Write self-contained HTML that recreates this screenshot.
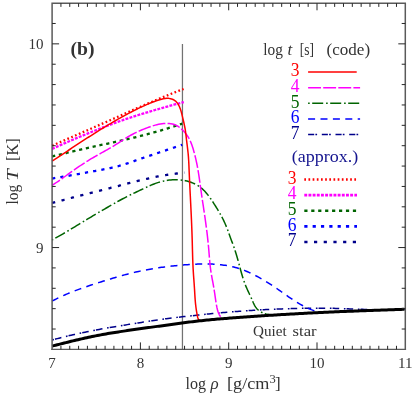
<!DOCTYPE html>
<html><head><meta charset="utf-8"><title>Figure (b)</title>
<style>html,body{margin:0;padding:0;background:#fff}svg{display:block}</style>
</head><body>
<svg width="415" height="397" viewBox="0 0 415 397" style="display:block">
<rect width="415" height="397" fill="#fff"/>
<line x1="182.45" y1="43.9" x2="182.45" y2="349.4" stroke="#727272" stroke-width="1.25"/>
<g fill="none" stroke-linejoin="round">
<path d="M52.10,203.00 L53.21,202.70 L54.33,202.41 L55.44,202.11 L56.55,201.82 L57.67,201.52 L58.78,201.23 L59.89,200.93 L61.01,200.64 L62.12,200.34 L63.23,200.05 L64.35,199.76 L65.46,199.46 L66.57,199.17 L67.69,198.88 L68.80,198.59 L69.92,198.29 L71.03,198.00 L72.14,197.71 L73.26,197.42 L74.37,197.13 L75.48,196.84 L76.60,196.55 L77.71,196.26 L78.82,195.97 L79.94,195.68 L81.05,195.39 L82.16,195.11 L83.28,194.82 L84.39,194.53 L85.50,194.24 L86.62,193.96 L87.73,193.67 L88.84,193.38 L89.96,193.10 L91.07,192.81 L92.18,192.53 L93.30,192.24 L94.41,191.96 L95.52,191.68 L96.64,191.39 L97.75,191.11 L98.86,190.83 L99.98,190.55 L101.09,190.27 L102.21,189.99 L103.32,189.71 L104.43,189.43 L105.55,189.15 L106.66,188.86 L107.77,188.58 L108.89,188.30 L110.00,188.02 L111.11,187.74 L112.23,187.46 L113.34,187.18 L114.45,186.90 L115.57,186.62 L116.68,186.33 L117.79,186.05 L118.91,185.77 L120.02,185.48 L121.13,185.19 L122.25,184.90 L123.36,184.61 L124.47,184.32 L125.59,184.03 L126.70,183.73 L127.81,183.44 L128.93,183.15 L130.04,182.86 L131.15,182.57 L132.27,182.28 L133.38,182.00 L134.49,181.72 L135.61,181.44 L136.72,181.17 L137.84,180.90 L138.95,180.63 L140.06,180.37 L141.18,180.11 L142.29,179.86 L143.40,179.61 L144.52,179.35 L145.63,179.10 L146.74,178.85 L147.86,178.60 L148.97,178.35 L150.08,178.10 L151.20,177.86 L152.31,177.62 L153.42,177.38 L154.54,177.15 L155.65,176.92 L156.76,176.70 L157.88,176.48 L158.99,176.26 L160.10,176.05 L161.22,175.85 L162.33,175.65 L163.44,175.46 L164.56,175.27 L165.67,175.09 L166.78,174.92 L167.90,174.75 L169.01,174.58 L170.13,174.41 L171.24,174.25 L172.35,174.09 L173.47,173.93 L174.58,173.78 L175.69,173.63 L176.81,173.49 L177.92,173.35 L179.03,173.21 L180.15,173.08 L181.26,172.95 L182.37,172.83 L183.49,172.71 L184.60,172.60" stroke="#00008b" stroke-width="2.3" stroke-dasharray="3.2 6.5"/>
<path d="M52.10,178.50 L53.19,178.33 L54.29,178.15 L55.38,177.97 L56.47,177.80 L57.57,177.62 L58.66,177.44 L59.75,177.26 L60.85,177.07 L61.94,176.89 L63.03,176.71 L64.13,176.52 L65.22,176.34 L66.31,176.15 L67.41,175.96 L68.50,175.77 L69.59,175.58 L70.69,175.39 L71.78,175.20 L72.87,175.01 L73.97,174.81 L75.06,174.62 L76.15,174.42 L77.25,174.23 L78.34,174.03 L79.43,173.83 L80.53,173.63 L81.62,173.43 L82.71,173.23 L83.81,173.03 L84.90,172.83 L85.99,172.62 L87.08,172.42 L88.18,172.22 L89.27,172.01 L90.36,171.81 L91.46,171.61 L92.55,171.41 L93.64,171.21 L94.74,171.01 L95.83,170.81 L96.92,170.61 L98.02,170.41 L99.11,170.20 L100.20,170.00 L101.30,169.79 L102.39,169.58 L103.48,169.37 L104.58,169.16 L105.67,168.94 L106.76,168.73 L107.86,168.50 L108.95,168.27 L110.04,168.04 L111.14,167.81 L112.23,167.57 L113.32,167.32 L114.42,167.07 L115.51,166.81 L116.60,166.55 L117.70,166.28 L118.79,166.00 L119.88,165.70 L120.98,165.40 L122.07,165.08 L123.16,164.76 L124.26,164.42 L125.35,164.07 L126.44,163.71 L127.54,163.35 L128.63,162.98 L129.72,162.61 L130.82,162.23 L131.91,161.84 L133.00,161.46 L134.10,161.07 L135.19,160.68 L136.28,160.29 L137.38,159.90 L138.47,159.51 L139.56,159.12 L140.66,158.74 L141.75,158.36 L142.84,157.99 L143.94,157.62 L145.03,157.26 L146.12,156.89 L147.22,156.53 L148.31,156.17 L149.40,155.80 L150.49,155.44 L151.59,155.07 L152.68,154.71 L153.77,154.34 L154.87,153.98 L155.96,153.61 L157.05,153.25 L158.15,152.88 L159.24,152.52 L160.33,152.15 L161.43,151.78 L162.52,151.42 L163.61,151.05 L164.71,150.68 L165.80,150.32 L166.89,149.95 L167.99,149.58 L169.08,149.22 L170.17,148.85 L171.27,148.48 L172.36,148.12 L173.45,147.75 L174.55,147.38 L175.64,147.01 L176.73,146.64 L177.83,146.28 L178.92,145.91 L180.01,145.54 L181.11,145.17 L182.20,144.80" stroke="#0000ff" stroke-width="2.3" stroke-dasharray="3.2 5.13"/>
<path d="M52.10,156.50 L53.19,156.23 L54.28,155.96 L55.38,155.68 L56.47,155.41 L57.56,155.14 L58.65,154.88 L59.75,154.61 L60.84,154.34 L61.93,154.07 L63.02,153.81 L64.12,153.54 L65.21,153.28 L66.30,153.01 L67.39,152.75 L68.49,152.48 L69.58,152.22 L70.67,151.96 L71.76,151.70 L72.86,151.44 L73.95,151.18 L75.04,150.92 L76.13,150.66 L77.23,150.40 L78.32,150.15 L79.41,149.89 L80.50,149.64 L81.60,149.38 L82.69,149.13 L83.78,148.87 L84.87,148.62 L85.97,148.37 L87.06,148.12 L88.15,147.87 L89.24,147.62 L90.34,147.37 L91.43,147.12 L92.52,146.88 L93.61,146.64 L94.71,146.40 L95.80,146.16 L96.89,145.92 L97.98,145.68 L99.07,145.44 L100.17,145.21 L101.26,144.97 L102.35,144.74 L103.44,144.50 L104.54,144.27 L105.63,144.03 L106.72,143.80 L107.81,143.56 L108.91,143.32 L110.00,143.09 L111.09,142.85 L112.18,142.61 L113.28,142.37 L114.37,142.12 L115.46,141.88 L116.55,141.63 L117.65,141.39 L118.74,141.14 L119.83,140.89 L120.92,140.63 L122.02,140.38 L123.11,140.12 L124.20,139.87 L125.29,139.62 L126.39,139.36 L127.48,139.11 L128.57,138.85 L129.66,138.59 L130.76,138.33 L131.85,138.08 L132.94,137.81 L134.03,137.55 L135.13,137.29 L136.22,137.03 L137.31,136.76 L138.40,136.49 L139.49,136.22 L140.59,135.95 L141.68,135.67 L142.77,135.40 L143.86,135.12 L144.96,134.84 L146.05,134.55 L147.14,134.27 L148.23,133.98 L149.33,133.68 L150.42,133.39 L151.51,133.09 L152.60,132.79 L153.70,132.48 L154.79,132.17 L155.88,131.86 L156.97,131.55 L158.07,131.24 L159.16,130.92 L160.25,130.60 L161.34,130.28 L162.44,129.95 L163.53,129.63 L164.62,129.30 L165.71,128.96 L166.81,128.63 L167.90,128.29 L168.99,127.95 L170.08,127.61 L171.18,127.27 L172.27,126.92 L173.36,126.57 L174.45,126.22 L175.55,125.87 L176.64,125.51 L177.73,125.15 L178.82,124.79 L179.92,124.43 L181.01,124.07 L182.10,123.70" stroke="#006400" stroke-width="2.3" stroke-dasharray="3.2 3.74"/>
<path d="M52.10,148.90 L53.21,148.39 L54.31,147.89 L55.42,147.38 L56.53,146.88 L57.63,146.38 L58.74,145.88 L59.85,145.39 L60.95,144.89 L62.06,144.40 L63.17,143.91 L64.27,143.42 L65.38,142.94 L66.49,142.45 L67.59,141.97 L68.70,141.49 L69.81,141.01 L70.91,140.53 L72.02,140.06 L73.13,139.58 L74.23,139.11 L75.34,138.64 L76.45,138.18 L77.55,137.71 L78.66,137.24 L79.77,136.78 L80.87,136.32 L81.98,135.86 L83.09,135.40 L84.19,134.95 L85.30,134.49 L86.41,134.04 L87.52,133.59 L88.62,133.14 L89.73,132.69 L90.84,132.24 L91.94,131.80 L93.05,131.35 L94.16,130.91 L95.26,130.47 L96.37,130.03 L97.48,129.59 L98.58,129.16 L99.69,128.72 L100.80,128.29 L101.90,127.86 L103.01,127.43 L104.12,127.00 L105.22,126.57 L106.33,126.15 L107.44,125.73 L108.54,125.31 L109.65,124.89 L110.76,124.47 L111.86,124.06 L112.97,123.65 L114.08,123.24 L115.18,122.83 L116.29,122.43 L117.40,122.03 L118.50,121.64 L119.61,121.24 L120.72,120.85 L121.82,120.46 L122.93,120.08 L124.04,119.70 L125.14,119.32 L126.25,118.94 L127.36,118.57 L128.46,118.21 L129.57,117.84 L130.68,117.48 L131.78,117.12 L132.89,116.76 L134.00,116.40 L135.10,116.05 L136.21,115.70 L137.32,115.35 L138.42,115.01 L139.53,114.66 L140.64,114.32 L141.74,113.98 L142.85,113.65 L143.96,113.31 L145.06,112.97 L146.17,112.64 L147.28,112.31 L148.38,111.98 L149.49,111.65 L150.60,111.32 L151.71,111.00 L152.81,110.67 L153.92,110.35 L155.03,110.02 L156.13,109.70 L157.24,109.38 L158.35,109.06 L159.45,108.74 L160.56,108.43 L161.67,108.11 L162.77,107.80 L163.88,107.48 L164.99,107.17 L166.09,106.86 L167.20,106.55 L168.31,106.24 L169.41,105.94 L170.52,105.63 L171.63,105.33 L172.73,105.03 L173.84,104.73 L174.95,104.43 L176.05,104.13 L177.16,103.84 L178.27,103.54 L179.37,103.25 L180.48,102.96 L181.59,102.67 L182.69,102.39 L183.80,102.10" stroke="#ff00ff" stroke-width="2.3" stroke-dasharray="2.9 1.27"/>
<path d="M52.10,145.60 L53.21,145.12 L54.31,144.64 L55.42,144.16 L56.52,143.68 L57.63,143.20 L58.73,142.72 L59.84,142.24 L60.94,141.76 L62.05,141.28 L63.15,140.80 L64.26,140.32 L65.36,139.84 L66.47,139.36 L67.57,138.88 L68.68,138.40 L69.78,137.92 L70.89,137.44 L71.99,136.95 L73.10,136.47 L74.20,135.99 L75.31,135.51 L76.41,135.03 L77.52,134.54 L78.62,134.06 L79.73,133.58 L80.83,133.10 L81.94,132.61 L83.04,132.13 L84.15,131.65 L85.25,131.16 L86.36,130.68 L87.46,130.20 L88.57,129.71 L89.67,129.23 L90.78,128.75 L91.88,128.26 L92.99,127.78 L94.09,127.29 L95.20,126.81 L96.30,126.32 L97.41,125.84 L98.51,125.35 L99.62,124.87 L100.72,124.38 L101.83,123.90 L102.93,123.41 L104.04,122.92 L105.14,122.43 L106.25,121.94 L107.35,121.45 L108.46,120.96 L109.56,120.47 L110.67,119.98 L111.77,119.49 L112.88,119.00 L113.98,118.50 L115.09,118.01 L116.19,117.52 L117.30,117.02 L118.40,116.53 L119.51,116.04 L120.61,115.54 L121.72,115.05 L122.82,114.56 L123.93,114.06 L125.03,113.57 L126.14,113.08 L127.24,112.59 L128.35,112.09 L129.45,111.60 L130.56,111.11 L131.66,110.62 L132.77,110.13 L133.87,109.64 L134.98,109.15 L136.08,108.66 L137.19,108.18 L138.29,107.69 L139.40,107.21 L140.50,106.72 L141.61,106.24 L142.71,105.75 L143.82,105.27 L144.92,104.79 L146.03,104.31 L147.13,103.83 L148.24,103.36 L149.34,102.88 L150.45,102.41 L151.55,101.93 L152.66,101.46 L153.76,100.99 L154.87,100.52 L155.97,100.06 L157.08,99.59 L158.18,99.13 L159.29,98.67 L160.39,98.21 L161.50,97.75 L162.60,97.30 L163.71,96.85 L164.81,96.40 L165.92,95.95 L167.02,95.50 L168.13,95.06 L169.23,94.61 L170.34,94.17 L171.44,93.73 L172.55,93.29 L173.65,92.85 L174.76,92.42 L175.86,91.98 L176.97,91.55 L178.07,91.12 L179.18,90.69 L180.28,90.27 L181.39,89.84 L182.49,89.42 L183.60,89.00" stroke="#ff0000" stroke-width="2.3" stroke-dasharray="1.7 2.47"/>
<path d="M52.10,340.00 L53.83,339.53 L55.56,339.06 L57.29,338.60 L59.02,338.15 L60.75,337.71 L62.49,337.27 L64.22,336.84 L65.96,336.42 L67.70,336.00 L69.44,335.59 L71.18,335.19 L72.92,334.79 L74.66,334.40 L76.41,334.01 L78.15,333.63 L79.90,333.25 L81.65,332.88 L83.40,332.51 L85.15,332.15 L86.90,331.80 L88.65,331.45 L90.40,331.10 L92.16,330.76 L93.91,330.42 L95.67,330.09 L97.42,329.76 L99.18,329.43 L100.94,329.11 L102.70,328.79 L104.46,328.47 L106.22,328.16 L107.98,327.85 L109.74,327.55 L111.50,327.24 L113.26,326.94 L115.02,326.64 L116.79,326.35 L118.55,326.06 L120.31,325.77 L122.08,325.48 L123.84,325.19 L125.61,324.90 L127.37,324.62 L129.14,324.34 L130.91,324.06 L132.67,323.78 L134.44,323.50 L136.20,323.22 L137.97,322.94 L139.74,322.67 L141.50,322.39 L143.27,322.11 L145.04,321.84 L146.80,321.56 L148.57,321.29 L150.34,321.01 L152.10,320.74 L153.87,320.47 L155.64,320.21 L157.41,319.94 L159.18,319.68 L160.94,319.43 L162.71,319.18 L164.48,318.93 L166.26,318.69 L168.03,318.45 L169.80,318.23 L171.57,318.00 L173.35,317.79 L175.12,317.58 L176.90,317.37 L178.67,317.17 L180.45,316.98 L182.23,316.78 L184.00,316.59 L185.78,316.40 L187.56,316.21 L189.34,316.02 L191.12,315.84 L192.89,315.65 L194.67,315.46 L196.45,315.26 L198.22,315.07 L200.00,314.88 L201.78,314.68 L203.56,314.49 L205.33,314.29 L207.11,314.10 L208.89,313.92 L210.66,313.73 L212.44,313.55 L214.22,313.38 L216.00,313.21 L217.78,313.04 L219.56,312.88 L221.34,312.72 L223.12,312.57 L224.90,312.41 L226.69,312.27 L228.47,312.12 L230.25,311.97 L232.03,311.83 L233.81,311.69 L235.59,311.55 L237.38,311.42 L239.16,311.28 L240.94,311.15 L242.73,311.02 L244.51,310.89 L246.29,310.77 L248.07,310.65 L249.86,310.53 L251.64,310.41 L253.43,310.29 L255.21,310.18 L256.99,310.07 L258.78,309.97 L260.56,309.87 L262.35,309.77 L264.13,309.68 L265.92,309.59 L267.70,309.50 L269.49,309.41 L271.27,309.33 L273.06,309.25 L274.85,309.18 L276.63,309.11 L278.42,309.04 L280.20,308.97 L281.99,308.90 L283.78,308.84 L285.56,308.78 L287.35,308.72 L289.14,308.67 L290.92,308.62 L292.71,308.57 L294.50,308.52 L296.28,308.47 L298.07,308.43 L299.86,308.39 L301.65,308.36 L303.43,308.33 L305.22,308.30 L307.01,308.27 L308.80,308.25 L310.58,308.23 L312.37,308.22 L314.16,308.21 L315.95,308.20 L317.73,308.20 L319.52,308.20 L321.31,308.21 L323.10,308.22 L324.88,308.23 L326.67,308.25 L328.46,308.27 L330.25,308.30 L332.03,308.34 L333.82,308.37 L335.61,308.41 L337.39,308.46 L339.18,308.51 L340.97,308.57 L342.75,308.63 L344.54,308.69 L346.33,308.75 L348.11,308.82 L349.90,308.88 L351.69,308.95 L353.47,309.02 L355.26,309.09 L357.04,309.15 L358.83,309.22 L360.62,309.28 L362.40,309.35 L364.19,309.41 L365.98,309.46 L367.76,309.52 L369.55,309.57 L371.33,309.61 L373.12,309.65 L374.91,309.69 L376.69,309.72 L378.48,309.74 L380.27,309.76 L382.06,309.77 L383.84,309.77 L385.63,309.76 L387.42,309.74 L389.20,309.72 L390.99,309.68 L392.78,309.64 L394.57,309.58 L396.36,309.52 L398.14,309.44 L399.93,309.35 L401.72,309.25 L403.51,309.13 L405.30,309.00" stroke="#00008b" stroke-width="1.5" stroke-dasharray="1.6 1.1 6.6 4.7" stroke-dashoffset="-0.3"/>
<path d="M52.10,301.10 L53.40,300.41 L54.69,299.73 L56.00,299.06 L57.31,298.41 L58.62,297.77 L59.94,297.14 L61.26,296.52 L62.58,295.91 L63.91,295.31 L65.24,294.73 L66.58,294.15 L67.92,293.58 L69.26,293.02 L70.61,292.47 L71.96,291.93 L73.31,291.40 L74.66,290.88 L76.02,290.36 L77.38,289.85 L78.75,289.35 L80.11,288.85 L81.48,288.36 L82.85,287.87 L84.22,287.39 L85.59,286.92 L86.97,286.45 L88.34,285.99 L89.72,285.52 L91.10,285.07 L92.48,284.61 L93.87,284.16 L95.25,283.72 L96.64,283.27 L98.02,282.83 L99.41,282.39 L100.79,281.95 L102.18,281.51 L103.57,281.07 L104.96,280.64 L106.35,280.21 L107.74,279.78 L109.13,279.35 L110.52,278.93 L111.91,278.51 L113.31,278.09 L114.70,277.67 L116.10,277.26 L117.50,276.86 L118.89,276.45 L120.29,276.06 L121.69,275.67 L123.10,275.28 L124.50,274.90 L125.90,274.52 L127.31,274.15 L128.72,273.78 L130.13,273.43 L131.54,273.07 L132.95,272.73 L134.36,272.39 L135.78,272.06 L137.20,271.73 L138.62,271.42 L140.04,271.11 L141.46,270.81 L142.89,270.52 L144.31,270.23 L145.74,269.95 L147.17,269.68 L148.60,269.42 L150.03,269.16 L151.46,268.91 L152.90,268.67 L154.34,268.43 L155.77,268.21 L157.21,267.98 L158.65,267.77 L160.09,267.56 L161.53,267.35 L162.97,267.15 L164.42,266.96 L165.86,266.78 L167.30,266.60 L168.75,266.42 L170.19,266.26 L171.64,266.09 L173.09,265.94 L174.53,265.79 L175.98,265.64 L177.43,265.50 L178.88,265.36 L180.32,265.23 L181.77,265.11 L183.22,264.99 L184.67,264.87 L186.12,264.76 L187.57,264.66 L189.02,264.56 L190.48,264.47 L191.93,264.38 L193.38,264.30 L194.83,264.22 L196.28,264.15 L197.74,264.08 L199.19,264.02 L200.64,263.97 L202.10,263.93 L203.55,263.91 L205.00,263.89 L206.46,263.89 L207.91,263.91 L209.37,263.94 L210.82,263.99 L212.27,264.05 L213.73,264.13 L215.18,264.22 L216.63,264.33 L218.08,264.46 L219.53,264.61 L220.98,264.77 L222.43,264.94 L223.87,265.14 L225.31,265.36 L226.75,265.59 L228.19,265.85 L229.62,266.12 L231.05,266.42 L232.47,266.73 L233.89,267.07 L235.30,267.44 L236.70,267.82 L238.10,268.23 L239.49,268.66 L240.86,269.12 L242.24,269.61 L243.60,270.12 L244.95,270.65 L246.30,271.20 L247.63,271.77 L248.96,272.37 L250.29,272.98 L251.60,273.60 L252.91,274.24 L254.21,274.90 L255.51,275.57 L256.80,276.25 L258.08,276.94 L259.36,277.64 L260.63,278.34 L261.90,279.06 L263.16,279.79 L264.41,280.52 L265.66,281.27 L266.91,282.02 L268.14,282.79 L269.37,283.56 L270.60,284.35 L271.81,285.14 L273.02,285.94 L274.23,286.76 L275.43,287.58 L276.63,288.40 L277.82,289.24 L279.01,290.07 L280.20,290.91 L281.38,291.75 L282.57,292.60 L283.76,293.44 L284.94,294.28 L286.13,295.12 L287.33,295.95 L288.52,296.78 L289.72,297.60 L290.92,298.42 L292.13,299.23 L293.35,300.03 L294.57,300.82 L295.80,301.59 L297.03,302.36 L298.28,303.11 L299.53,303.84 L300.80,304.56 L302.07,305.27 L303.35,305.95 L304.65,306.62 L305.95,307.27 L307.27,307.90 L308.59,308.51 L309.93,309.09 L311.28,309.64 L312.65,310.16 L314.02,310.64 L315.41,311.07 L316.81,311.46 L318.22,311.79 L319.65,312.07 L321.09,312.28 L322.54,312.43 L324.00,312.50" stroke="#0000ff" stroke-width="1.5" stroke-dasharray="7 5.4"/>
<path d="M52.10,240.00 L53.48,239.24 L54.85,238.47 L56.22,237.70 L57.59,236.92 L58.96,236.14 L60.32,235.36 L61.68,234.57 L63.04,233.78 L64.40,232.98 L65.76,232.18 L67.11,231.38 L68.46,230.58 L69.81,229.77 L71.17,228.96 L72.51,228.15 L73.86,227.34 L75.21,226.53 L76.56,225.72 L77.90,224.90 L79.25,224.09 L80.60,223.27 L81.94,222.46 L83.29,221.64 L84.63,220.83 L85.98,220.02 L87.33,219.20 L88.68,218.39 L90.03,217.58 L91.38,216.78 L92.73,215.97 L94.08,215.17 L95.44,214.36 L96.79,213.57 L98.15,212.77 L99.50,211.97 L100.86,211.18 L102.22,210.39 L103.58,209.60 L104.95,208.81 L106.31,208.02 L107.67,207.24 L109.04,206.45 L110.40,205.67 L111.77,204.89 L113.13,204.11 L114.50,203.33 L115.87,202.56 L117.25,201.79 L118.62,201.02 L120.00,200.26 L121.38,199.51 L122.77,198.77 L124.16,198.04 L125.56,197.31 L126.96,196.60 L128.36,195.89 L129.77,195.19 L131.19,194.50 L132.60,193.81 L134.02,193.13 L135.44,192.46 L136.86,191.78 L138.29,191.11 L139.71,190.44 L141.13,189.76 L142.55,189.09 L143.97,188.41 L145.39,187.73 L146.81,187.06 L148.24,186.39 L149.67,185.74 L151.12,185.12 L152.58,184.52 L154.05,183.94 L155.53,183.39 L157.02,182.88 L158.53,182.40 L160.04,181.95 L161.57,181.53 L163.10,181.16 L164.65,180.82 L166.20,180.53 L167.77,180.27 L169.34,180.06 L170.93,179.90 L172.52,179.78 L174.12,179.72 L175.72,179.70 L177.34,179.74 L178.95,179.82 L180.57,179.97 L182.18,180.16 L183.78,180.41 L185.37,180.72 L186.95,181.08 L188.50,181.50 L190.04,181.97 L191.55,182.50 L193.03,183.09 L194.49,183.74 L195.90,184.44 L197.28,185.21 L198.61,186.04 L199.90,186.93 L201.14,187.88 L202.33,188.88 L203.47,189.95 L204.57,191.06 L205.64,192.21 L206.67,193.41 L207.66,194.64 L208.63,195.90 L209.58,197.18 L210.50,198.48 L211.40,199.80 L212.29,201.13 L213.17,202.46 L214.04,203.80 L214.90,205.14 L215.76,206.48 L216.60,207.82 L217.42,209.17 L218.24,210.52 L219.04,211.88 L219.82,213.24 L220.59,214.62 L221.34,215.99 L222.08,217.38 L222.79,218.77 L223.49,220.17 L224.16,221.59 L224.82,223.01 L225.45,224.44 L226.06,225.89 L226.64,227.34 L227.21,228.81 L227.77,230.28 L228.31,231.76 L228.85,233.24 L229.38,234.72 L229.91,236.21 L230.45,237.69 L230.99,239.17 L231.54,240.64 L232.09,242.12 L232.64,243.59 L233.19,245.07 L233.72,246.55 L234.24,248.03 L234.74,249.52 L235.23,251.01 L235.70,252.51 L236.16,254.01 L236.61,255.52 L237.05,257.03 L237.49,258.54 L237.91,260.06 L238.33,261.57 L238.75,263.09 L239.17,264.62 L239.58,266.14 L239.99,267.66 L240.40,269.19 L240.82,270.71 L241.24,272.24 L241.67,273.76 L242.11,275.27 L242.56,276.78 L243.03,278.29 L243.52,279.78 L244.02,281.27 L244.54,282.75 L245.09,284.21 L245.67,285.66 L246.27,287.10 L246.89,288.53 L247.53,289.96 L248.18,291.38 L248.84,292.80 L249.51,294.23 L250.17,295.66 L250.83,297.10 L251.49,298.56 L252.13,300.03 L252.77,301.51 L253.42,302.99 L254.10,304.44 L254.85,305.84 L255.68,307.17 L256.60,308.41 L257.65,309.55 L258.84,310.57 L260.14,311.47 L261.52,312.26 L262.95,312.94 L264.41,313.52 L265.91,313.99 L267.44,314.35 L269.00,314.60" stroke="#006400" stroke-width="1.5" stroke-dasharray="11 2.9 1.6 2.5" stroke-dashoffset="14.3"/>
<path d="M52.10,185.40 L53.55,184.44 L54.99,183.47 L56.42,182.50 L57.85,181.51 L59.28,180.52 L60.70,179.52 L62.12,178.52 L63.54,177.51 L64.95,176.50 L66.37,175.49 L67.78,174.48 L69.19,173.47 L70.61,172.46 L72.03,171.45 L73.44,170.45 L74.86,169.45 L76.29,168.45 L77.71,167.46 L79.15,166.48 L80.58,165.50 L82.03,164.54 L83.48,163.58 L84.93,162.64 L86.39,161.70 L87.87,160.78 L89.35,159.88 L90.83,158.98 L92.33,158.10 L93.83,157.23 L95.34,156.36 L96.85,155.50 L98.36,154.65 L99.88,153.80 L101.39,152.95 L102.91,152.10 L104.43,151.25 L105.94,150.40 L107.45,149.54 L108.96,148.68 L110.46,147.80 L111.96,146.92 L113.45,146.03 L114.93,145.13 L116.41,144.21 L117.87,143.28 L119.33,142.34 L120.78,141.38 L122.23,140.42 L123.68,139.47 L125.14,138.54 L126.62,137.62 L128.12,136.74 L129.62,135.87 L131.15,135.03 L132.68,134.22 L134.23,133.42 L135.79,132.65 L137.36,131.90 L138.95,131.18 L140.54,130.47 L142.14,129.79 L143.76,129.13 L145.38,128.49 L147.01,127.88 L148.64,127.28 L150.28,126.70 L151.93,126.15 L153.59,125.62 L155.26,125.13 L156.94,124.69 L158.63,124.30 L160.34,123.97 L162.06,123.70 L163.81,123.51 L165.57,123.40 L167.34,123.38 L169.10,123.48 L170.84,123.69 L172.55,124.03 L174.22,124.52 L175.82,125.17 L177.35,125.98 L178.82,126.92 L180.22,127.97 L181.55,129.11 L182.83,130.33 L184.04,131.59 L185.19,132.91 L186.27,134.28 L187.28,135.69 L188.23,137.15 L189.09,138.65 L189.88,140.19 L190.61,141.76 L191.27,143.37 L191.89,144.99 L192.45,146.65 L192.98,148.31 L193.47,149.99 L193.95,151.67 L194.40,153.36 L194.84,155.04 L195.26,156.73 L195.66,158.42 L196.05,160.12 L196.42,161.81 L196.78,163.51 L197.12,165.21 L197.45,166.91 L197.76,168.62 L198.06,170.33 L198.34,172.04 L198.61,173.75 L198.87,175.47 L199.13,177.19 L199.37,178.91 L199.61,180.63 L199.85,182.35 L200.09,184.07 L200.32,185.79 L200.56,187.51 L200.80,189.24 L201.05,190.96 L201.29,192.68 L201.54,194.39 L201.79,196.11 L202.05,197.83 L202.30,199.55 L202.56,201.27 L202.82,202.99 L203.08,204.70 L203.34,206.42 L203.59,208.14 L203.85,209.86 L204.11,211.57 L204.36,213.29 L204.61,215.01 L204.86,216.73 L205.11,218.45 L205.35,220.16 L205.59,221.88 L205.83,223.60 L206.06,225.33 L206.29,227.05 L206.51,228.77 L206.73,230.49 L206.95,232.21 L207.15,233.94 L207.36,235.66 L207.55,237.39 L207.74,239.12 L207.93,240.84 L208.11,242.57 L208.28,244.30 L208.45,246.03 L208.60,247.76 L208.76,249.49 L208.90,251.22 L209.04,252.95 L209.18,254.69 L209.31,256.42 L209.45,258.15 L209.60,259.88 L209.75,261.61 L209.92,263.34 L210.09,265.07 L210.29,266.80 L210.50,268.52 L210.73,270.24 L210.99,271.95 L211.27,273.67 L211.56,275.38 L211.86,277.09 L212.17,278.80 L212.49,280.51 L212.81,282.21 L213.13,283.92 L213.44,285.63 L213.74,287.34 L214.03,289.06 L214.30,290.77 L214.56,292.49 L214.81,294.21 L215.05,295.93 L215.30,297.64 L215.55,299.36 L215.81,301.08 L216.08,302.80 L216.36,304.51 L216.67,306.22 L217.01,307.93 L217.41,309.62 L217.89,311.29 L218.49,312.93 L219.21,314.53 L220.09,316.07 L221.17,317.45 L222.46,318.59 L224.00,319.40" stroke="#ff00ff" stroke-width="1.5" stroke-dasharray="12.9 2.2" stroke-dashoffset="3.5"/>
<path d="M52.10,161.00 L53.63,160.01 L55.16,159.02 L56.70,158.02 L58.22,157.02 L59.75,156.02 L61.28,155.02 L62.81,154.02 L64.33,153.02 L65.86,152.01 L67.38,151.01 L68.91,150.00 L70.43,149.00 L71.96,147.99 L73.48,146.99 L75.01,145.98 L76.54,144.98 L78.06,143.97 L79.59,142.97 L81.12,141.97 L82.65,140.97 L84.18,139.97 L85.71,138.98 L87.25,137.99 L88.78,137.00 L90.32,136.01 L91.86,135.03 L93.40,134.04 L94.94,133.07 L96.49,132.09 L98.03,131.12 L99.58,130.16 L101.14,129.20 L102.69,128.24 L104.25,127.29 L105.81,126.34 L107.38,125.40 L108.94,124.46 L110.52,123.53 L112.09,122.61 L113.67,121.69 L115.25,120.77 L116.83,119.86 L118.42,118.96 L120.01,118.06 L121.61,117.17 L123.21,116.29 L124.81,115.41 L126.42,114.54 L128.03,113.68 L129.65,112.82 L131.27,111.97 L132.89,111.13 L134.52,110.31 L136.16,109.49 L137.80,108.68 L139.45,107.89 L141.10,107.11 L142.76,106.34 L144.42,105.59 L146.09,104.85 L147.77,104.13 L149.45,103.43 L151.14,102.74 L152.84,102.07 L154.55,101.43 L156.27,100.81 L158.00,100.23 L159.75,99.68 L161.51,99.17 L163.29,98.74 L165.10,98.44 L166.92,98.30 L168.78,98.37 L170.63,98.68 L172.41,99.23 L174.07,100.03 L175.56,101.09 L176.83,102.40 L177.92,103.89 L178.85,105.50 L179.63,107.16 L180.30,108.87 L180.87,110.60 L181.37,112.36 L181.83,114.13 L182.26,115.91 L182.68,117.69 L183.11,119.47 L183.53,121.25 L183.94,123.03 L184.33,124.82 L184.70,126.60 L185.03,128.40 L185.33,130.20 L185.59,132.00 L185.82,133.81 L186.03,135.63 L186.24,137.45 L186.44,139.26 L186.66,141.08 L186.88,142.89 L187.11,144.70 L187.34,146.52 L187.56,148.33 L187.77,150.14 L187.97,151.96 L188.16,153.77 L188.33,155.59 L188.47,157.41 L188.59,159.23 L188.70,161.06 L188.80,162.88 L188.88,164.71 L188.96,166.53 L189.03,168.36 L189.11,170.18 L189.18,172.01 L189.26,173.84 L189.34,175.66 L189.42,177.49 L189.50,179.31 L189.59,181.14 L189.67,182.96 L189.76,184.79 L189.85,186.61 L189.94,188.43 L190.02,190.26 L190.11,192.08 L190.20,193.91 L190.30,195.73 L190.39,197.56 L190.48,199.38 L190.57,201.20 L190.66,203.03 L190.75,204.85 L190.84,206.68 L190.93,208.50 L191.01,210.32 L191.10,212.15 L191.19,213.97 L191.27,215.80 L191.35,217.62 L191.44,219.45 L191.52,221.27 L191.59,223.09 L191.67,224.92 L191.74,226.74 L191.81,228.57 L191.88,230.39 L191.95,232.22 L192.01,234.04 L192.07,235.87 L192.13,237.70 L192.19,239.52 L192.24,241.35 L192.29,243.17 L192.33,245.00 L192.38,246.83 L192.42,248.65 L192.47,250.48 L192.52,252.31 L192.57,254.13 L192.62,255.96 L192.67,257.79 L192.73,259.61 L192.80,261.44 L192.87,263.26 L192.95,265.09 L193.03,266.91 L193.13,268.73 L193.23,270.55 L193.35,272.38 L193.47,274.20 L193.59,276.02 L193.72,277.84 L193.86,279.66 L193.99,281.48 L194.12,283.30 L194.25,285.13 L194.37,286.95 L194.49,288.78 L194.60,290.60 L194.71,292.43 L194.81,294.26 L194.92,296.08 L195.04,297.91 L195.17,299.73 L195.32,301.55 L195.49,303.36 L195.69,305.17 L195.91,306.98 L196.16,308.78 L196.43,310.58 L196.72,312.39 L197.02,314.21 L197.35,316.03 L197.80,317.80 L198.48,319.47 L199.50,321.00" stroke="#ff0000" stroke-width="1.5"/>
<path d="M52.10,346.10 L53.83,345.66 L55.56,345.22 L57.29,344.78 L59.02,344.34 L60.75,343.91 L62.48,343.47 L64.21,343.04 L65.94,342.61 L67.67,342.18 L69.41,341.75 L71.14,341.33 L72.88,340.91 L74.61,340.49 L76.35,340.08 L78.09,339.67 L79.83,339.27 L81.57,338.87 L83.31,338.47 L85.05,338.08 L86.79,337.70 L88.54,337.32 L90.28,336.95 L92.03,336.58 L93.78,336.22 L95.52,335.87 L97.28,335.52 L99.03,335.18 L100.78,334.85 L102.54,334.53 L104.29,334.22 L106.05,333.91 L107.81,333.60 L109.57,333.31 L111.33,333.02 L113.09,332.73 L114.85,332.45 L116.62,332.18 L118.38,331.91 L120.15,331.64 L121.91,331.38 L123.68,331.12 L125.44,330.86 L127.21,330.60 L128.98,330.35 L130.74,330.09 L132.51,329.84 L134.28,329.59 L136.05,329.34 L137.81,329.09 L139.58,328.84 L141.35,328.60 L143.12,328.35 L144.88,328.10 L146.65,327.86 L148.42,327.61 L150.19,327.37 L151.95,327.12 L153.72,326.87 L155.49,326.63 L157.26,326.38 L159.02,326.14 L160.79,325.89 L162.56,325.64 L164.33,325.40 L166.09,325.15 L167.86,324.90 L169.63,324.66 L171.40,324.41 L173.16,324.17 L174.93,323.93 L176.70,323.69 L178.47,323.45 L180.24,323.22 L182.01,322.98 L183.78,322.76 L185.55,322.53 L187.32,322.31 L189.09,322.09 L190.86,321.88 L192.64,321.66 L194.41,321.46 L196.18,321.25 L197.95,321.05 L199.73,320.86 L201.50,320.66 L203.28,320.48 L205.05,320.29 L206.83,320.11 L208.60,319.94 L210.38,319.76 L212.16,319.60 L213.93,319.43 L215.71,319.27 L217.49,319.11 L219.27,318.96 L221.05,318.81 L222.82,318.66 L224.60,318.52 L226.38,318.38 L228.16,318.24 L229.94,318.10 L231.72,317.97 L233.50,317.84 L235.28,317.71 L237.06,317.58 L238.84,317.46 L240.62,317.33 L242.40,317.21 L244.18,317.09 L245.96,316.97 L247.74,316.84 L249.52,316.72 L251.30,316.60 L253.09,316.48 L254.87,316.36 L256.65,316.23 L258.43,316.11 L260.21,315.99 L261.99,315.86 L263.77,315.73 L265.55,315.61 L267.33,315.48 L269.11,315.36 L270.89,315.24 L272.67,315.13 L274.45,315.01 L276.23,314.90 L278.01,314.80 L279.80,314.69 L281.58,314.59 L283.36,314.49 L285.14,314.39 L286.92,314.30 L288.70,314.20 L290.49,314.10 L292.27,314.00 L294.05,313.91 L295.83,313.81 L297.61,313.71 L299.40,313.61 L301.18,313.51 L302.96,313.41 L304.74,313.31 L306.52,313.21 L308.31,313.11 L310.09,313.02 L311.87,312.92 L313.65,312.82 L315.43,312.73 L317.22,312.64 L319.00,312.55 L320.78,312.46 L322.56,312.38 L324.35,312.30 L326.13,312.22 L327.91,312.14 L329.70,312.06 L331.48,311.99 L333.26,311.91 L335.05,311.84 L336.83,311.77 L338.61,311.69 L340.39,311.62 L342.18,311.55 L343.96,311.48 L345.74,311.41 L347.53,311.34 L349.31,311.27 L351.09,311.20 L352.88,311.14 L354.66,311.07 L356.44,311.00 L358.23,310.93 L360.01,310.87 L361.79,310.80 L363.58,310.73 L365.36,310.67 L367.15,310.60 L368.93,310.54 L370.71,310.47 L372.50,310.41 L374.28,310.35 L376.06,310.28 L377.85,310.22 L379.63,310.16 L381.41,310.09 L383.20,310.03 L384.98,309.97 L386.76,309.91 L388.55,309.85 L390.33,309.78 L392.11,309.72 L393.90,309.66 L395.68,309.60 L397.47,309.54 L399.25,309.48 L401.03,309.42 L402.82,309.36 L404.60,309.30" stroke="#000" stroke-width="3.0"/>
</g>
<path d="M52.1,350.0V3.3H405.3V350.0" stroke="#5a5a5a" stroke-width="1.5" fill="none" stroke-linejoin="miter"/>
<path d="M51.35,349.4H406.05" stroke="#5a5a5a" stroke-width="1.2" fill="none"/>
<path d="M60.93,349.4v-3.6M60.93,3.3v3.6M69.76,349.4v-3.6M69.76,3.3v3.6M78.59,349.4v-3.6M78.59,3.3v3.6M87.42,349.4v-3.6M87.42,3.3v3.6M96.25,349.4v-3.6M96.25,3.3v3.6M105.08,349.4v-3.6M105.08,3.3v3.6M113.91,349.4v-3.6M113.91,3.3v3.6M122.74,349.4v-3.6M122.74,3.3v3.6M131.57,349.4v-3.6M131.57,3.3v3.6M140.40,349.4v-7M140.40,3.3v7M149.23,349.4v-3.6M149.23,3.3v3.6M158.06,349.4v-3.6M158.06,3.3v3.6M166.89,349.4v-3.6M166.89,3.3v3.6M175.72,349.4v-3.6M175.72,3.3v3.6M184.55,349.4v-3.6M184.55,3.3v3.6M193.38,349.4v-3.6M193.38,3.3v3.6M202.21,349.4v-3.6M202.21,3.3v3.6M211.04,349.4v-3.6M211.04,3.3v3.6M219.87,349.4v-3.6M219.87,3.3v3.6M228.70,349.4v-7M228.70,3.3v7M237.53,349.4v-3.6M237.53,3.3v3.6M246.36,349.4v-3.6M246.36,3.3v3.6M255.19,349.4v-3.6M255.19,3.3v3.6M264.02,349.4v-3.6M264.02,3.3v3.6M272.85,349.4v-3.6M272.85,3.3v3.6M281.68,349.4v-3.6M281.68,3.3v3.6M290.51,349.4v-3.6M290.51,3.3v3.6M299.34,349.4v-3.6M299.34,3.3v3.6M308.17,349.4v-3.6M308.17,3.3v3.6M317.00,349.4v-7M317.00,3.3v7M325.83,349.4v-3.6M325.83,3.3v3.6M334.66,349.4v-3.6M334.66,3.3v3.6M343.49,349.4v-3.6M343.49,3.3v3.6M352.32,349.4v-3.6M352.32,3.3v3.6M361.15,349.4v-3.6M361.15,3.3v3.6M369.98,349.4v-3.6M369.98,3.3v3.6M378.81,349.4v-3.6M378.81,3.3v3.6M387.64,349.4v-3.6M387.64,3.3v3.6M396.47,349.4v-3.6M396.47,3.3v3.6M52.1,329.03h3.6M405.3,329.03h-3.6M52.1,308.66h3.6M405.3,308.66h-3.6M52.1,288.29h3.6M405.3,288.29h-3.6M52.1,267.92h3.6M405.3,267.92h-3.6M52.1,247.55h7M405.3,247.55h-7M52.1,227.18h3.6M405.3,227.18h-3.6M52.1,206.81h3.6M405.3,206.81h-3.6M52.1,186.44h3.6M405.3,186.44h-3.6M52.1,166.07h3.6M405.3,166.07h-3.6M52.1,145.70h3.6M405.3,145.70h-3.6M52.1,125.33h3.6M405.3,125.33h-3.6M52.1,104.96h3.6M405.3,104.96h-3.6M52.1,84.59h3.6M405.3,84.59h-3.6M52.1,64.22h3.6M405.3,64.22h-3.6M52.1,43.85h7M405.3,43.85h-7M52.1,23.48h3.6M405.3,23.48h-3.6" stroke="#262626" stroke-width="1.0" fill="none"/>
<g font-family="'Liberation Serif', serif" fill="#333">
<text x="52.1" y="368.2" font-size="15" text-anchor="middle">7</text>
<text x="140.4" y="368.2" font-size="15" text-anchor="middle">8</text>
<text x="228.7" y="368.2" font-size="15" text-anchor="middle">9</text>
<text x="317.0" y="368.2" font-size="15" text-anchor="middle">10</text>
<text x="405.3" y="368.2" font-size="15" text-anchor="middle">11</text>
<text x="43.5" y="48.90" font-size="15" text-anchor="end">10</text>
<text x="43.5" y="252.60" font-size="15" text-anchor="end">9</text>
<text x="70.5" y="55" font-size="19.5" textLength="24" lengthAdjust="spacingAndGlyphs" font-weight="bold">(b)</text>
<text x="253" y="335.5" font-size="15.5" textLength="33.6" lengthAdjust="spacingAndGlyphs">Quiet</text>
<text x="292.6" y="335.5" font-size="15.5" textLength="24.0" lengthAdjust="spacingAndGlyphs">star</text>
<text x="185.6" y="388.6" font-size="17" textLength="20.5" lengthAdjust="spacingAndGlyphs">log</text>
<text x="210.5" y="388.6" font-size="17" font-style="italic">ρ</text>
<text x="227.0" y="388.6" font-size="17" textLength="42.4" lengthAdjust="spacingAndGlyphs">[g/cm</text>
<text x="269.4" y="382.6" font-size="12.5">3</text>
<text x="275.0" y="388.6" font-size="17">]</text>
<g transform="translate(17.6,204.6) rotate(-90)">
<text x="0" y="0" font-size="17" textLength="19.8" lengthAdjust="spacingAndGlyphs">log</text>
<text x="23.6" y="0" font-size="17" textLength="11.8" lengthAdjust="spacingAndGlyphs" font-style="italic">T</text>
<text x="43.6" y="0" font-size="17" textLength="22.6" lengthAdjust="spacingAndGlyphs">[K]</text>
</g>
<text x="263.3" y="54.7" font-size="17" textLength="19.6" lengthAdjust="spacingAndGlyphs">log</text>
<text x="287.6" y="54.7" font-size="17" font-style="italic">t</text>
<text x="299.8" y="54.7" font-size="17" textLength="14.2" lengthAdjust="spacingAndGlyphs">[s]</text>
<text x="326.6" y="54.7" font-size="17" textLength="43.5" lengthAdjust="spacingAndGlyphs">(code)</text>
<text transform="translate(295,76.2) scale(1,1.08)" font-size="17.5" text-anchor="middle" fill="#ff0000">3</text>
<text transform="translate(295,91.9) scale(1,1.08)" font-size="17.5" text-anchor="middle" fill="#ff00ff">4</text>
<text transform="translate(295,107.5) scale(1,1.08)" font-size="17.5" text-anchor="middle" fill="#006400">5</text>
<text transform="translate(295,123.2) scale(1,1.08)" font-size="17.5" text-anchor="middle" fill="#0000ff">6</text>
<text transform="translate(295,138.8) scale(1,1.08)" font-size="17.5" text-anchor="middle" fill="#00008b">7</text>
<text x="291.8" y="161.5" font-size="17" textLength="66.4" lengthAdjust="spacingAndGlyphs" fill="#15158f">(approx.)</text>
<text transform="translate(292.1,183.7) scale(1,1.08)" font-size="17.5" text-anchor="middle" fill="#ff0000">3</text>
<text transform="translate(292.1,199.3) scale(1,1.08)" font-size="17.5" text-anchor="middle" fill="#ff00ff">4</text>
<text transform="translate(292.1,214.9) scale(1,1.08)" font-size="17.5" text-anchor="middle" fill="#006400">5</text>
<text transform="translate(292.1,230.6) scale(1,1.08)" font-size="17.5" text-anchor="middle" fill="#0000ff">6</text>
<text transform="translate(292.1,246.2) scale(1,1.08)" font-size="17.5" text-anchor="middle" fill="#00008b">7</text>
</g>
<g fill="none">
<line x1="308.1" y1="72.0" x2="356.7" y2="72.0" stroke="#ff0000" stroke-width="1.5"/>
<line x1="308.1" y1="87.7" x2="360.1" y2="87.7" stroke="#ff00ff" stroke-width="1.5" stroke-dasharray="12.9 2.2"/>
<line x1="308.1" y1="103.25" x2="360.1" y2="103.25" stroke="#006400" stroke-width="1.5" stroke-dasharray="1.6 2.5 11 2.9"/>
<line x1="308.1" y1="118.95" x2="360.1" y2="118.95" stroke="#0000ff" stroke-width="1.5" stroke-dasharray="7 5.4"/>
<line x1="308.1" y1="134.55" x2="360.1" y2="134.55" stroke="#00008b" stroke-width="1.5" stroke-dasharray="6.1 1.2 1.7 4.7"/>
<line x1="304.3" y1="179.5" x2="357" y2="179.5" stroke="#ff0000" stroke-width="2.6" stroke-dasharray="1.7 2.47"/>
<line x1="304.3" y1="195.1" x2="357" y2="195.1" stroke="#ff00ff" stroke-width="2.6" stroke-dasharray="2.9 1.27"/>
<line x1="304.3" y1="210.7" x2="357" y2="210.7" stroke="#006400" stroke-width="2.6" stroke-dasharray="3.2 3.74"/>
<line x1="304.3" y1="226.4" x2="357" y2="226.4" stroke="#0000ff" stroke-width="2.6" stroke-dasharray="3.2 5.13"/>
<line x1="304.3" y1="242.0" x2="357" y2="242.0" stroke="#00008b" stroke-width="2.6" stroke-dasharray="3.2 6.5"/>
</g>
</svg>
</body></html>
